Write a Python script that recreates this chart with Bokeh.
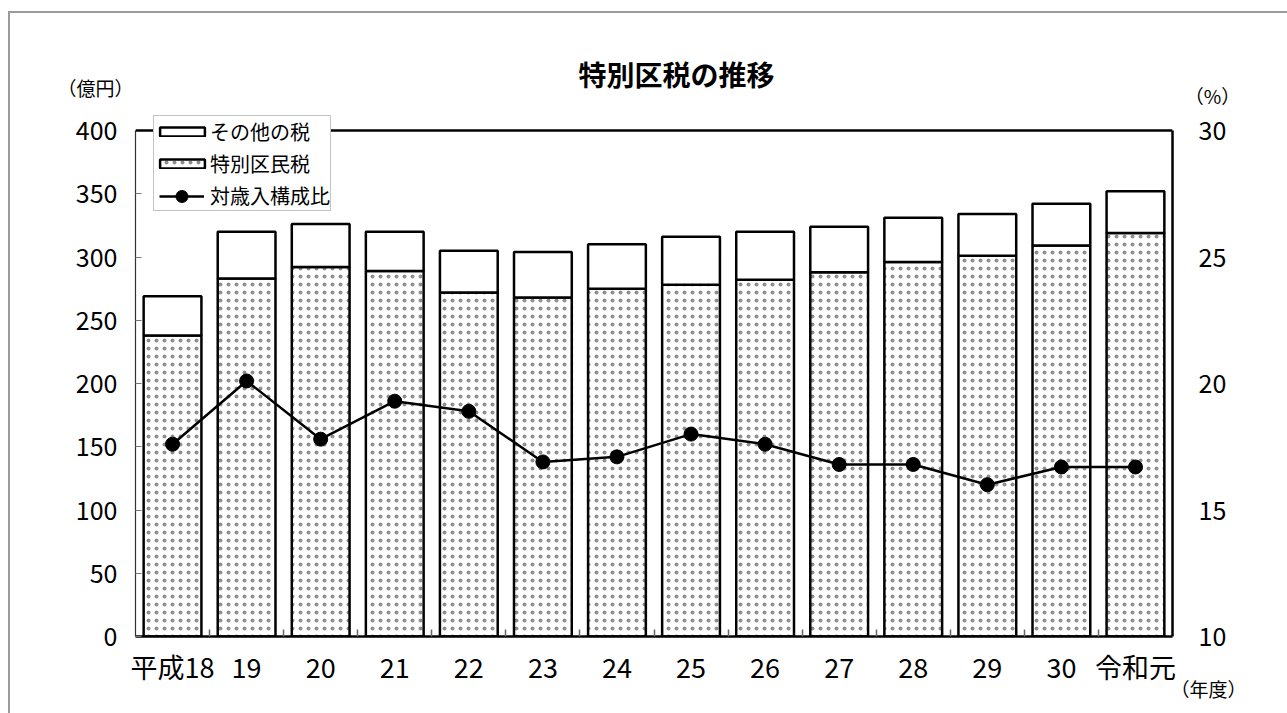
from bokeh.plotting import figure
from bokeh.layouts import column
from bokeh.models import (Range1d, LinearAxis, FixedTicker, Legend, LegendItem,
                          Label, Span, ColumnDataSource)
from bokeh.transform import stack
from bokeh.embed import file_html
from bokeh.resources import INLINE

# ---- data ----
years = ["平成18", "19", "20", "21", "22", "23", "24", "25", "26", "27", "28", "29", "30", "令和元"]
tokubetsu = [238, 283, 292, 289, 272, 268, 275, 278, 282, 288, 296, 301, 309, 319]   # 特別区民税 (億円)
sonota = [31, 37, 34, 31, 33, 36, 35, 38, 38, 36, 35, 33, 33, 33]                    # その他の税 (億円)
ratio = [17.6, 20.1, 17.8, 19.3, 18.9, 16.9, 17.1, 18.0, 17.6, 16.8, 16.8, 16.0, 16.7, 16.7]  # 対歳入構成比 (%)
left_ticks = [0, 50, 100, 150, 200, 250, 300, 350, 400]
right_ticks = [10, 15, 20, 25, 30]
left_max, right_min, right_max = 400, 10, 30

n = len(years)
xs = [i + 0.5 for i in range(n)]

NUM_FONT = "'Liberation Sans Narrow', 'Noto Sans CJK JP'"
CJK_FONT = "'Noto Sans CJK JP'"

# layout in window pixels
WIN_W, WIN_H = 1287, 713
HEAD_H = 112
FOOT_H = 40
FL, FR, Y_TOP, Y_BOT = 135, 1172, 130, 636
GRAY = "#9a9a9a"


def text_strip(height, styles=None):
    f = figure(width=WIN_W, height=height, output_backend="svg", toolbar_location=None,
               x_range=Range1d(0, WIN_W), y_range=Range1d(height, 0),
               x_axis_location=None, y_axis_location=None,
               min_border_left=0, min_border_right=0, min_border_top=0, min_border_bottom=0)
    f.frame_align = False
    f.outline_line_color = None
    f.grid.visible = False
    f.background_fill_alpha = 0
    f.border_fill_alpha = 0
    if styles:
        f.styles = styles
    return f


def add_text(f, txt, cx, cy, size, bold=False):
    f.add_layout(Label(x=cx, y=cy, text=txt, text_align="center", text_baseline="middle",
                       text_font=CJK_FONT, text_font_size=size, text_color="black",
                       text_font_style="bold" if bold else "normal"))


# ---------------- header (title, unit labels) ----------------
h = text_strip(HEAD_H)
add_text(h, "特別区税の推移", 676, 73, "28px", bold=True)
add_text(h, "（億円）", 95, 87, "19px")
add_text(h, "（%）", 1212, 95, "19px")

# ---------------- main chart ----------------
k_left = (Y_BOT - Y_TOP) / left_max
k_right = (Y_BOT - Y_TOP) / (right_max - right_min)
extra = Y_TOP - HEAD_H

p = figure(width=WIN_W, height=WIN_H - HEAD_H, output_backend="svg", toolbar_location=None,
           x_range=Range1d(0, n), y_range=Range1d(0, left_max + extra / k_left),
           min_border_left=FL, min_border_right=WIN_W - FR,
           min_border_top=0, min_border_bottom=WIN_H - Y_BOT)
p.frame_align = False
p.outline_line_color = None
p.grid.visible = False
p.background_fill_color = "white"
p.border_fill_alpha = 0
p.extra_y_ranges = {"pct": Range1d(right_min, right_max + extra / k_right)}

src = ColumnDataSource(dict(x=xs, tokubetsu=tokubetsu, sonota=sonota, ratio=ratio))

r_low = p.vbar(x="x", width=0.78, bottom=0, top=stack("tokubetsu"), source=src,
               fill_color="white", line_color="black", line_width=2.5,
               hatch_pattern="dot", hatch_scale=8, hatch_color="#333333",
               hatch_weight=0.3, hatch_alpha=0.55)
r_up = p.vbar(x="x", width=0.78, bottom=stack("tokubetsu"), top=stack("tokubetsu", "sonota"),
              source=src, fill_color="white", line_color="black", line_width=2.5)

r_line = p.line(x="x", y="ratio", source=src, y_range_name="pct", line_color="black", line_width=2.5)
r_pts = p.scatter(x="x", y="ratio", source=src, y_range_name="pct", size=14,
                  fill_color="black", line_color="black")

# axes
xa = p.xaxis[0]
xa.ticker = FixedTicker(ticks=xs, minor_ticks=list(range(1, n)))
xa.major_label_overrides = {x: y for x, y in zip(xs, years)}
xa.major_tick_line_color = None
xa.minor_tick_in = 7
xa.minor_tick_out = 0
xa.minor_tick_line_color = "#666666"
xa.minor_tick_line_width = 1.5
xa.axis_line_color = "black"
xa.axis_line_width = 2.5
xa.major_label_text_font = NUM_FONT
xa.major_label_text_font_size = "27px"
xa.major_label_text_color = "black"
xa.major_label_standoff = 4

ya = p.yaxis[0]
ya.ticker = FixedTicker(ticks=left_ticks)
ya.bounds = (0, left_max)
ya.major_tick_in = 6
ya.major_tick_out = 0
ya.major_tick_line_color = "#777777"
ya.minor_tick_line_color = None
ya.axis_line_color = "#333333"
ya.axis_line_width = 1.2
ya.major_label_text_font = NUM_FONT
ya.major_label_text_font_size = "25px"
ya.major_label_text_color = "black"
ya.major_label_standoff = 18

yr = LinearAxis(y_range_name="pct", ticker=FixedTicker(ticks=right_ticks), bounds=(right_min, right_max))
yr.major_tick_line_color = None
yr.minor_tick_line_color = None
yr.axis_line_color = "black"
yr.axis_line_width = 2.5
yr.major_label_text_font = NUM_FONT
yr.major_label_text_font_size = "25px"
yr.major_label_text_color = "black"
yr.major_label_standoff = 20
p.add_layout(yr, "right")

# top border of the plot box at the axis maximum
p.add_layout(Span(location=left_max, dimension="width", line_color="black", line_width=2.5))

# legend
leg = Legend(items=[LegendItem(label="その他の税", renderers=[r_up]),
                    LegendItem(label="特別区民税", renderers=[r_low]),
                    LegendItem(label="対歳入構成比", renderers=[])],
             location=(153 - FL, Y_BOT - 211), orientation="vertical",
             glyph_width=56, glyph_height=11, label_height=30, spacing=2,
             padding=0, margin=0, label_standoff=0,
             label_text_font=CJK_FONT, label_text_font_size="20px",
             label_text_color="black", label_text_baseline="middle",
             border_line_color="#888888", border_line_width=1,
             background_fill_color="white", background_fill_alpha=1)
p.add_layout(leg)

leg2 = Legend(items=[LegendItem(label=" ", renderers=[r_line, r_pts])],
              location=(159 - FL, Y_BOT - 211), glyph_width=45, glyph_height=30,
              label_height=30, padding=0, margin=0, spacing=0, label_standoff=0,
              border_line_color=None, background_fill_alpha=0,
              label_text_font_size="1px")
p.add_layout(leg2)

# ---------------- footer (unit of x axis), laid over the bottom strip of the chart ----------------
ft = text_strip(FOOT_H, styles={"position": "relative", "top": f"-{FOOT_H}px"})
add_text(ft, "（年度）", 1208, 688 - (WIN_H - FOOT_H), "19px")

page = column(h, p, ft, spacing=0,
              styles={"background-image": f"linear-gradient({GRAY}, {GRAY}), linear-gradient({GRAY}, {GRAY})",
                      "background-size": "2px 100%, 100% 2px",
                      "background-position": "8px 11px, 8px 11px",
                      "background-repeat": "no-repeat"})

open("out.html", "w").write(file_html(page, INLINE))
